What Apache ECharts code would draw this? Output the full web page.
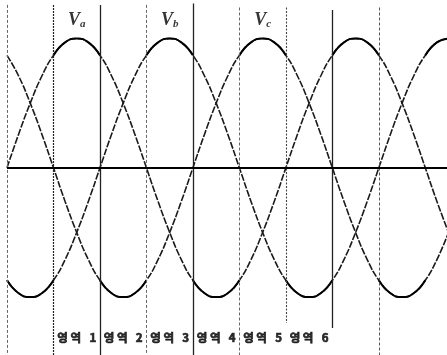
<!DOCTYPE html>
<html>
<head>
<meta charset="utf-8">
<script src="https://cdn.jsdelivr.net/npm/echarts@6/dist/echarts.min.js"></script>
<style>
html,body{margin:0;padding:0;background:#fff;}
#chart{width:447px;height:355px;}
</style>
</head>
<body>
<div id="chart"></div>
<script>
// electrical angle (degrees)
const theta = [0,15,30,45,60,75,90,105,120,135,150,165,180,195,210,225,240,255,270,285,300,315,330,345,360,375,390,405,420,435,450,465,480,495,510,525,540,555,570];
// phase voltages (per unit)
const va = [0,0.26,0.5,0.71,0.87,0.97,1,0.97,0.87,0.71,0.5,0.26,0,-0.26,-0.5,-0.71,-0.87,-0.97,-1,-0.97,-0.87,-0.71,-0.5,-0.26,0,0.26,0.5,0.71,0.87,0.97,1,0.97,0.87,0.71,0.5,0.26,0,-0.26,-0.5];
const vb = [-0.87,-0.97,-1,-0.97,-0.87,-0.71,-0.5,-0.26,0,0.26,0.5,0.71,0.87,0.97,1,0.97,0.87,0.71,0.5,0.26,0,-0.26,-0.5,-0.71,-0.87,-0.97,-1,-0.97,-0.87,-0.71,-0.5,-0.26,0,0.26,0.5,0.71,0.87,0.97,1];
const vc = [0.87,0.71,0.5,0.26,0,-0.26,-0.5,-0.71,-0.87,-0.97,-1,-0.97,-0.87,-0.71,-0.5,-0.26,0,0.26,0.5,0.71,0.87,0.97,1,0.97,0.87,0.71,0.5,0.26,0,-0.26,-0.5,-0.71,-0.87,-0.97,-1,-0.97,-0.87,-0.71,-0.5];
// sector boundaries (degrees)
const dividerTheta = [0,60,120,180,240,300,360,420,480];
// sector labels and their centres (degrees)
const regionLabels = ['영 역\u2002 1','영 역\u2002 2','영 역\u2002 3','영 역\u2002 4','영 역\u2002 5','영 역\u2002 6'];
const regionCenters = [90,150,210,270,330,390];
// phase labels at the peaks
const phaseNames = ['a','b','c'];
const phasePeaks = [90,210,330];

// ---- styles (kept separate from data) ----
const Y_MAX = 1.298, Y_MIN = -1.448;
const dividerStyle = [
  {c:'#666', w:1, t:[3,2], top:1.26, bot:Y_MIN},
  {c:'#222', w:1.2, t:[2,1], top:1.26, bot:Y_MIN},
  {c:'#222', w:1.3, t:'solid', top:1.26, bot:Y_MIN},
  {c:'#666', w:1, t:[3,2], top:1.26, bot:Y_MIN},
  {c:'#222', w:1.3, t:'solid', top:1.27, bot:Y_MIN},
  {c:'#666', w:1, t:[3,2], top:1.24, bot:Y_MIN},
  {c:'#444', w:1.1, t:[2,1.5], top:1.24, bot:-1.2},
  {c:'#222', w:1.3, t:'solid', top:1.22, bot:-1.24},
  {c:'#555', w:1, t:[3,2], top:1.24, bot:Y_MIN}
];

const waves = [va, vb, vc];
const series = [];
waves.forEach(function(w){
  series.push({
    type:'line', smooth:true, symbol:'none', clip:true,
    data: theta.map(function(t,i){return [t,w[i]];}),
    lineStyle:{color:'#1a1a1a', width:1.6, type:[7,1.5]}
  });
  series.push({
    type:'line', smooth:true, symbol:'none', clip:true, connectNulls:false,
    data: theta.map(function(t,i){return [t, Math.abs(w[i])>=0.86 ? w[i] : null];}),
    lineStyle:{color:'#000', width:2}
  });
});

// dividers + zero axis
series.push({
  type:'line', data:[], silent:true,
  markLine:{
    symbol:'none', silent:true, animation:false,
    label:{show:false},
    data: dividerTheta.map(function(t,i){
      const s = dividerStyle[i];
      return [{coord:[t,s.top], lineStyle:{color:s.c,width:s.w,type:s.t}},{coord:[t,s.bot]}];
    }).concat([[{coord:[0,0], lineStyle:{color:'#000',width:2.2,type:'solid'}},{coord:[568,0]}]])
  }
});

// sector labels
series.push({
  type:'scatter', symbolSize:0, silent:true,
  data: regionCenters.map(function(t){return [t,-1.316];}),
  label:{
    show:true, position:'inside',
    formatter:function(p){return regionLabels[p.dataIndex];},
    fontFamily:'Noto Sans CJK KR', fontWeight:'bold', fontSize:11.5, color:'#000',
    textBorderColor:'#000', textBorderWidth:0.7
  }
});

// phase labels
series.push({
  type:'scatter', symbolSize:0, silent:true,
  data: phasePeaks.map(function(t){return [t,1.14];}),
  label:{
    show:true, position:'inside',
    formatter:function(p){return '{v|V}{s|'+phaseNames[p.dataIndex]+'}';},
    rich:{
      v:{fontFamily:'Liberation Serif', fontStyle:'italic', fontWeight:'bold', fontSize:18, color:'#000'},
      s:{fontFamily:'Liberation Serif', fontStyle:'italic', fontWeight:'bold', fontSize:11, color:'#000', padding:[8,0,0,0]}
    }
  }
});

const chart = echarts.init(document.getElementById('chart'), null, {renderer:'canvas'});
chart.setOption({
  animation:false,
  backgroundColor:'#fff',
  grid:{left:7, right:0, top:0, bottom:0},
  xAxis:{type:'value', min:0, max:568, show:false},
  yAxis:{type:'value', min:Y_MIN, max:Y_MAX, show:false},
  series: series
});
</script>
</body>
</html>
